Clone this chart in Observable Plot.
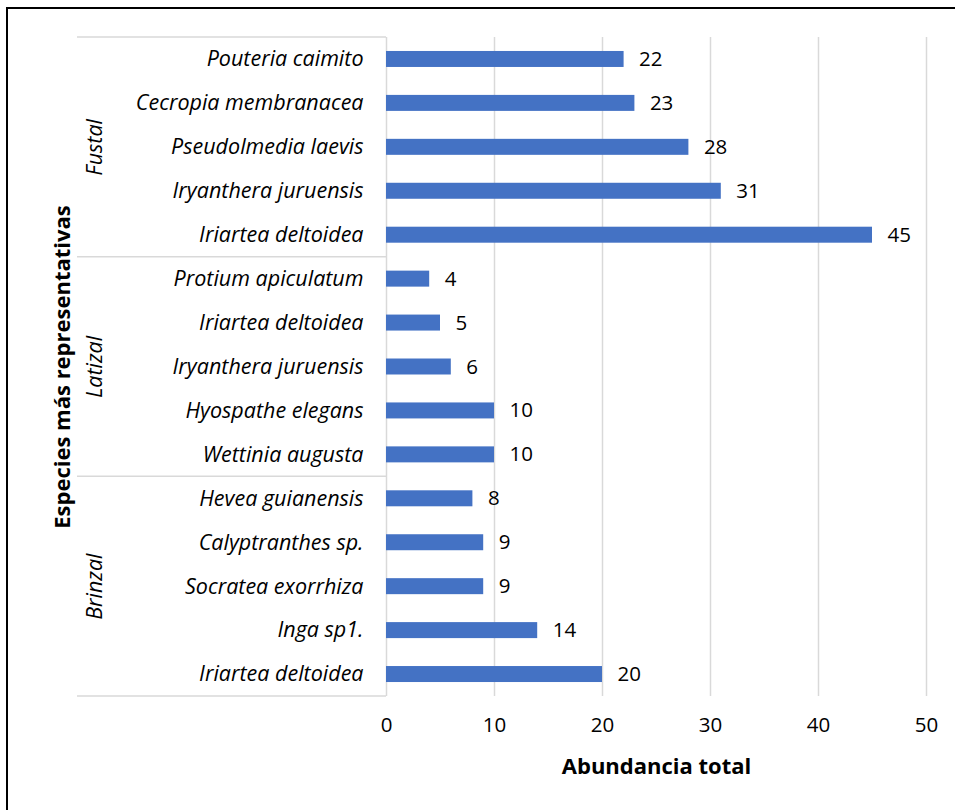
<!DOCTYPE html>
<html><head><meta charset="utf-8">
<script src="https://cdn.jsdelivr.net/npm/d3@7"></script>
<script src="https://cdn.jsdelivr.net/npm/@observablehq/plot@0.6"></script>
<style>
body{margin:0;background:#fff;}
#wrap{position:relative;width:955px;height:810px;overflow:hidden;background:#fff;}
#chart{position:absolute;left:0;top:0;}
#border{position:absolute;left:6px;top:7px;width:1000px;height:900px;border:2px solid #000;box-sizing:border-box;pointer-events:none;}
</style></head><body>
<div id="wrap"><div id="chart"></div><div id="border"></div></div>
<script>
const groups = ["Fustal", "Latizal", "Brinzal"];
const fustalSpecies = ["Pouteria caimito", "Cecropia membranacea", "Pseudolmedia laevis", "Iryanthera juruensis", "Iriartea deltoidea"];
const fustalValues = [22, 23, 28, 31, 45];
const latizalSpecies = ["Protium apiculatum", "Iriartea deltoidea", "Iryanthera juruensis", "Hyospathe elegans", "Wettinia augusta"];
const latizalValues = [4, 5, 6, 10, 10];
const brinzalSpecies = ["Hevea guianensis", "Calyptranthes sp.", "Socratea exorrhiza", "Inga sp1.", "Iriartea deltoidea"];
const brinzalValues = [8, 9, 9, 14, 20];
const xTicks = [0, 10, 20, 30, 40, 50];
const xTitle = "Abundancia total";
const yTitle = "Especies más representativas";

const speciesByGroup = [fustalSpecies, latizalSpecies, brinzalSpecies];
const valuesByGroup = [fustalValues, latizalValues, brinzalValues];
const rows = [];
groups.forEach((g, gi) => {
  speciesByGroup[gi].forEach((s, i) => {
    rows.push({group: g, species: s, value: valuesByGroup[gi][i], key: g + "|" + s, idx: i});
  });
});
const keys = rows.map(d => d.key);
const groupMid = groups.map((g, gi) => {
  const r = rows.filter(d => d.group === g);
  return r[Math.floor(r.length / 2)];
});

const font = "'Open Sans', Lato, sans-serif";
const fsLabel = 21.5;
const fsNum = 20.5;
const fsTitle = 22;
const chart = Plot.plot({
  width: 955,
  height: 810,
  marginLeft: 386,
  marginRight: 29,
  marginTop: 37,
  marginBottom: 114,
  style: {fontFamily: font, background: "transparent", color: "#000"},
  x: {domain: [0, 50]},
  y: {domain: keys, paddingInner: 0.636, paddingOuter: 0.318, round: false, axis: null},
  marks: [
    Plot.gridX(xTicks, {stroke: "#d9d9d9", strokeOpacity: 1, strokeWidth: 1.5}),
    Plot.axisX(xTicks, {tickSize: 0, tickPadding: 21, fontSize: fsNum, label: null, fill: "#000"}),
    Plot.barX(rows, {x: "value", y: "key", fill: "#4472C4"}),
    Plot.text(rows, {x: "value", y: "key", text: d => String(d.value), textAnchor: "start", dx: 15, fontSize: fsNum, fill: "#000"}),
    Plot.text(rows, {y: "key", text: "species", frameAnchor: "left", textAnchor: "end", dx: -23, fontSize: fsLabel, fontStyle: "italic", fill: "#000"}),
    Plot.text(groupMid, {y: "key", text: "group", frameAnchor: "left", textAnchor: "middle", dx: -291, rotate: -90, fontSize: fsLabel, fontStyle: "italic", fill: "#000"}),
    Plot.text([yTitle], {text: d => d, frameAnchor: "left", textAnchor: "middle", dx: -324, rotate: -90, fontSize: fsTitle, fontWeight: "bold", fill: "#000"}),
    Plot.text([xTitle], {text: d => d, frameAnchor: "bottom", textAnchor: "middle", dy: 77, fontSize: fsTitle, fontWeight: "bold", fill: "#000"})
  ]
});
document.getElementById("chart").appendChild(chart);

// group separators on the category axis, placed with the plot's y scale
const ys = chart.scale("y");
const half = (ys.step - ys.bandwidth) / 2;
const bounds = [];
groups.forEach(g => {
  const r = rows.filter(d => d.group === g);
  bounds.push(ys.apply(r[0].key) - half);
});
bounds.push(ys.apply(rows[rows.length - 1].key) + ys.bandwidth + half);
const x0 = chart.scale("x").apply(0);
d3.select(chart).append("g")
  .selectAll("line").data(bounds).join("line")
  .attr("x1", 77).attr("x2", x0)
  .attr("y1", d => d).attr("y2", d => d)
  .attr("stroke", "#d9d9d9").attr("stroke-width", 1.5);
</script>
</body></html>
